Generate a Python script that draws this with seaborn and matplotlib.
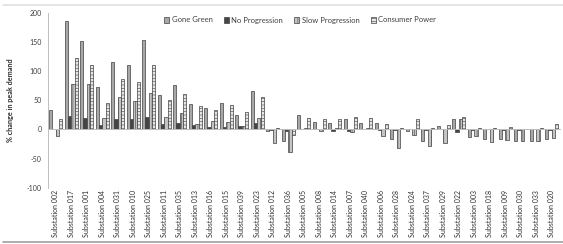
import numpy as np
import pandas as pd
import matplotlib
matplotlib.use("Agg")
import matplotlib.pyplot as plt
import seaborn as sns
from matplotlib.ticker import FixedLocator
from matplotlib.patches import Patch

substations = ["002", "017", "001", "004", "031", "010", "025", "011", "035", "013",
               "016", "015", "039", "023", "012", "036", "005", "008", "014", "007",
               "040", "006", "028", "024", "037", "029", "022", "003", "018", "009",
               "030", "033", "020"]
categories = ["Substation " + s for s in substations]

gone_green = [33, 185, 152, 73, 115, 110, 153, 59, 76, 43,
              37, 46, 25, 65, -2, -20, 24, 12, 11, 18,
              11, 11, -17, -2, -20, 6, 18, -13, -16, -17,
              -20, -20, -16]
no_progression = [1, 23, 20, 8, 18, 18, 22, 9, 11, 8,
                  4, 4, 5, 11, -1, -2, 1, 0, -3, -3,
                  0, -1, -1, 0, -1, 0, -5, -1, 0, -1,
                  -1, 0, -1]
slow_progression = [-12, 78, 77, 20, 55, 48, 63, 22, 28, 10,
                    15, 12, 5, 20, -24, -38, 2, -2, 2, -4,
                    2, -11, -32, -9, -28, -23, 18, -12, -21, -19,
                    -20, -20, -14]
consumer_power = [17, 123, 111, 46, 86, 82, 110, 50, 60, 40,
                  34, 41, 30, 55, 3, -9, 20, 18, 17, 21,
                  19, 10, 2, 17, 3, 8, 21, 3, 3, 4,
                  1, 3, 10]

series_names = ["Gone Green", "No Progression", "Slow Progression", "Consumer Power"]
y_ticks = [-100, -50, 0, 50, 100, 150, 200]

df = pd.DataFrame({
    "Substation": categories * 4,
    "Scenario": sum([[n] * len(categories) for n in series_names], []),
    "Change": gone_green + no_progression + slow_progression + consumer_power,
})

sns.set_style("white")
plt.rcParams["font.family"] = ["Lato", "DejaVu Sans"]
plt.rcParams["hatch.linewidth"] = 0.4

fig = plt.figure(figsize=(5.63, 2.44), dpi=100)
ax = fig.add_axes([48 / 563, (244 - 187.7) / 244, (559.5 - 48) / 563, 175 / 244])

facecolors = ["#a8a8a8", "#454545", "#c4c4c4", "#e6e6e6"]
hatches = ["", "", "||||", "-----"]
edge = "#404040"

sns.barplot(data=df, x="Substation", y="Change", hue="Scenario", hue_order=series_names,
            palette=facecolors, ax=ax, width=0.84, gap=0.0, legend=False)

for cont, fc, h in zip(ax.containers, facecolors, hatches):
    for bar in cont:
        bar.set_facecolor(fc)
        bar.set_edgecolor(edge)
        bar.set_linewidth(0.5)
        bar.set_hatch(h)

ax.set_ylim(-100, 200)
ax.set_xlim(-0.5, len(categories) - 0.5)
ax.set_yticks(y_ticks)
ax.set_yticklabels([str(v) for v in y_ticks], fontsize=5, color="#404040")
ax.set_xlabel("")
ax.set_ylabel("% change in peak demand", fontsize=5.2, fontweight="bold", color="#303030", labelpad=9)

for s in ["top", "right"]:
    ax.spines[s].set_visible(False)
ax.spines["left"].set_color("#bfbfbf")
ax.spines["left"].set_linewidth(0.7)
ax.spines["bottom"].set_position(("data", 0))
ax.spines["bottom"].set_color("#bfbfbf")
ax.spines["bottom"].set_linewidth(0.7)

ax.set_xticks(range(len(categories)))
ax.set_xticklabels(categories, rotation=90, fontsize=5, color="#303030")
ax.xaxis.set_minor_locator(FixedLocator(np.arange(-0.5, len(categories), 1.0)))
ax.tick_params(axis="x", which="major", length=0, pad=43.5)
ax.tick_params(axis="x", which="minor", length=2.5, color="#bfbfbf", width=0.6, direction="out")
ax.tick_params(axis="y", length=2.5, color="#bfbfbf", width=0.6, pad=2)

handles = [Patch(facecolor=fc, edgecolor=edge, hatch=h, linewidth=0.5)
           for fc, h in zip(facecolors, hatches)]
leg = fig.legend(handles, series_names, loc="center left", bbox_to_anchor=(164 / 563, 1 - 20 / 244),
                 ncol=4, frameon=False, fontsize=5.5, handlelength=0.7, handleheight=0.7,
                 handletextpad=0.3, columnspacing=1.45, borderaxespad=0, borderpad=0)
for t in leg.get_texts():
    t.set_color("#404040")

# chart border
fig.add_artist(plt.Line2D([3 / 563, 1], [1 - 5 / 244, 1 - 5 / 244], color="#e0e0e0", lw=1.2,
                          transform=fig.transFigure))
fig.add_artist(plt.Line2D([3 / 563, 1], [1 - 241.5 / 244, 1 - 241.5 / 244], color="#a0a0a0", lw=1.2,
                          transform=fig.transFigure))

fig.savefig("out.png", dpi=100)
